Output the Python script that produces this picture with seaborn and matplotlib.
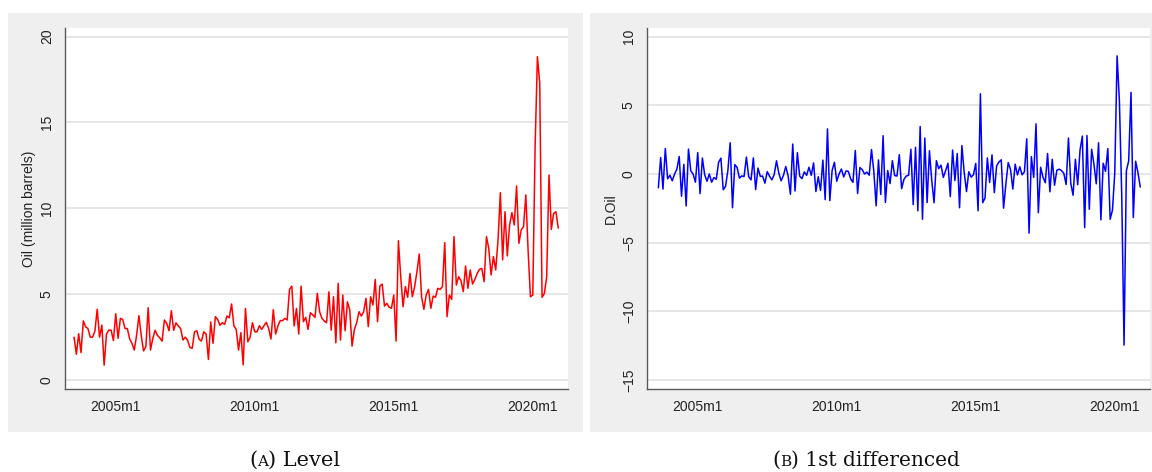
import numpy as np
import pandas as pd
import matplotlib
matplotlib.use("Agg")
import matplotlib.pyplot as plt
from matplotlib.patches import Rectangle
import seaborn as sns

# Monthly oil series, first observation 2003m7 (Stata %tm: months since 1960m1)
start_month = 522
oil_level = [
    2.5, 1.5, 2.7, 1.6, 3.45, 3.1, 3.0, 2.5, 2.5, 2.85,
    4.12, 2.5, 3.2, 0.87, 2.68, 2.91, 2.9, 2.3, 3.86, 2.43,
    3.59, 3.53, 3.0, 3.0, 2.4, 2.14, 1.75, 2.6, 3.75, 2.6,
    1.7, 1.94, 4.21, 1.75, 2.43, 2.9, 2.6, 2.46, 2.27, 3.5,
    3.3, 2.87, 4.04, 2.9, 3.33, 3.15, 3.0, 2.33, 2.5, 2.33,
    1.9, 1.85, 2.81, 2.87, 2.37, 2.27, 2.81, 2.68, 1.2, 3.38,
    2.14, 3.69, 3.53, 3.19, 3.34, 3.24, 3.73, 3.63, 4.43, 3.15,
    2.95, 1.75, 2.76, 0.89, 4.17, 2.23, 2.49, 3.34, 2.81, 2.81,
    3.17, 2.95, 3.17, 3.36, 3.0, 2.39, 4.1, 2.68, 3.15, 3.46,
    3.46, 3.59, 3.5, 5.28, 5.47, 3.15, 4.17, 2.68, 5.47, 3.4,
    3.65, 2.95, 3.92, 3.8, 3.65, 5.05, 3.98, 3.59, 3.44, 3.34,
    5.14, 2.91, 4.85, 2.17, 5.63, 2.33, 4.95, 2.87, 4.56, 4.08,
    1.98, 2.95, 3.34, 3.98, 3.73, 3.98, 4.76, 3.11, 4.85, 4.37,
    5.86, 3.4, 5.47, 5.59, 4.31, 4.47, 4.24, 4.18, 4.95, 2.27,
    8.11, 6.02, 4.27, 5.44, 4.82, 6.21, 4.85, 5.44, 6.31, 7.34,
    4.85, 4.12, 4.95, 5.28, 4.18, 4.89, 4.82, 5.34, 5.28, 5.44,
    8.0, 3.69, 4.95, 4.7, 8.35, 5.53, 6.02, 5.79, 5.15, 6.64,
    5.34, 6.41, 5.59, 5.86, 6.21, 6.45, 6.5, 5.73, 8.35, 7.67,
    6.12, 7.19, 6.41, 8.15, 10.91, 7.0, 9.8, 7.23, 9.03, 9.75,
    9.03, 11.3, 7.96, 8.74, 8.93, 10.78, 7.48, 4.85, 4.95, 13.55,
    18.83, 17.28, 4.82, 5.05, 6.0, 11.94, 8.77, 9.7, 9.8, 8.85,
]

tick_months = [540, 600, 660, 720]
tick_labels = ["2005m1", "2010m1", "2015m1", "2020m1"]
level_yticks = [0, 5, 10, 15, 20]
diff_yticks = [-15, -10, -5, 0, 5, 10]

months = start_month + np.arange(len(oil_level))
df = pd.DataFrame({"month": months, "Oil": oil_level})
df["D.Oil"] = df["Oil"].diff()  # Stata D. operator

sns.set_style("white")
plt.rcParams["font.family"] = ["Liberation Sans", "DejaVu Sans"]

W, H = 1152, 472
fig = plt.figure(figsize=(W / 100, H / 100), dpi=100)
fig.patch.set_facecolor("white")

graph_bg = "#EFEFEF"
grid_col = "#E4E4E4"
axis_col = "#5A5A5A"


def fx(px):
    return px / W


def fy(py):
    return 1 - py / H


# Outer graph regions (Stata-like grey margins), drawn behind the plot axes
bg = fig.add_axes([0, 0, 1, 1], zorder=0)
bg.set_axis_off()
bg.set_xlim(0, W)
bg.set_ylim(H, 0)
for x0, x1 in [(8, 583), (590, 1152)]:
    bg.add_patch(Rectangle((x0, 13), x1 - x0, 432 - 13,
                           facecolor=graph_bg, edgecolor="none"))

ax1 = fig.add_axes([fx(65), fy(389), fx(568) - fx(65), fy(28) - fy(389)], zorder=2)
ax2 = fig.add_axes([fx(647), fy(389), fx(1150) - fx(647), fy(28) - fy(389)], zorder=2)

sns.lineplot(data=df, x="month", y="Oil", ax=ax1, color="#FF0000", linewidth=1.1)
sns.lineplot(data=df.dropna(), x="month", y="D.Oil", ax=ax2, color="#0000FF", linewidth=1.1)

ax1.set_ylim(-0.52, 20.5)
ax2.set_ylim(-15.66, 10.63)
ax1.set_yticks(level_yticks)
ax2.set_yticks(diff_yticks)
ax1.set_ylabel("Oil (million barrels)", fontsize=10, labelpad=3)
ax2.set_ylabel("D.Oil", fontsize=10, labelpad=3)

for ax in (ax1, ax2):
    ax.set_xlim(start_month - 3.9, start_month + 213.2)
    ax.set_xticks(tick_months)
    ax.set_xticklabels(tick_labels)
    ax.set_xlabel("")
    ax.set_facecolor("white")
    ax.grid(axis="y", color=grid_col, linewidth=1.3)
    ax.grid(axis="x", visible=False)
    ax.set_axisbelow(True)
    for side in ("top", "right"):
        ax.spines[side].set_visible(False)
    for side in ("left", "bottom"):
        ax.spines[side].set_color(axis_col)
        ax.spines[side].set_linewidth(1.0)
    ax.tick_params(axis="both", direction="out", length=5, width=1.0,
                   color=axis_col, labelsize=10, labelcolor="#222222", pad=3)
    for lab in ax.get_yticklabels():
        lab.set_rotation(90)
        lab.set_va("center")
    ax.yaxis.label.set_color("#222222")


def caption(center_px, baseline_px, pieces):
    renderer = fig.canvas.get_renderer()
    texts = []
    for s, size in pieces:
        t = fig.text(0, fy(baseline_px), s, fontsize=size, family="DejaVu Serif",
                     ha="left", va="baseline", color="#111111")
        texts.append(t)
    widths = [t.get_window_extent(renderer).width for t in texts]
    x = center_px - sum(widths) / 2
    for t, w in zip(texts, widths):
        t.set_x(fx(x))
        x += w


caption(295, 466, [("(", 15), ("A", 11), (") Level", 15)])
caption(866, 466, [("(", 15), ("B", 11), (") 1st differenced", 14.5)])

fig.savefig("out.png", dpi=100)
